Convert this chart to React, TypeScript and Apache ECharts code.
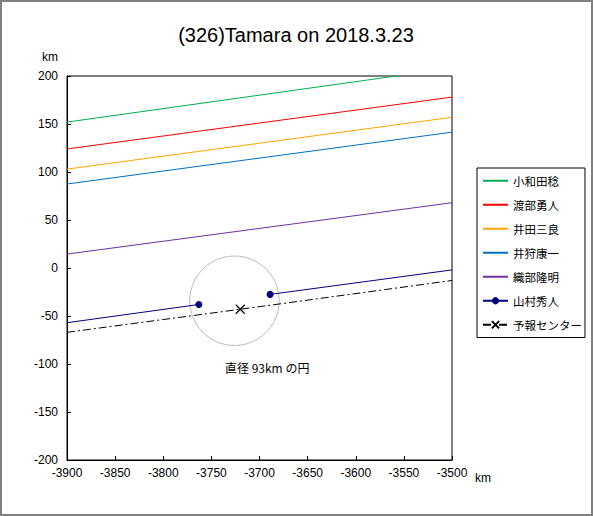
import React, { useEffect, useRef } from 'react';
import * as echarts from 'echarts';

const TITLE = '(326)Tamara on 2018.3.23';
const observers = ['小和田稔', '渡部勇人', '井田三良', '井狩康一', '織部隆明', '山村秀人', '予報センター'];
const lineColors = ['#00B050', '#FF0000', '#FFA500', '#0070C0', '#7030A0', '#000080', '#000000'];

const owadaLine = [[-3900, 152], [-3558, 200]];
const watanabeLine = [[-3900, 124], [-3500, 178]];
const idaLine = [[-3900, 103], [-3500, 157]];
const ikariLine = [[-3900, 87.5], [-3500, 141.5]];
const oribeLine = [[-3900, 14.5], [-3500, 68]];
const yamamuraLine: any[] = [[-3900, -57], [-3763, -38], [-3726, '-'], [-3689, -27.5], [-3500, -2]];
const predictLine = [[-3900, -67], [-3720, -43], [-3500, -13]];

const circleCenter = [-3726, -33];
const circleDiameter = 93;
const circleLabel = '直径 93km の円';
const circleLabelPos = [-3692, -104];

const xRange = [-3900, -3500];
const yRange = [-200, 200];
const tickStep = 50;

const FONT = 'Liberation Sans, Arial, sans-serif';
const JFONT = 'Noto Sans CJK JP, sans-serif';

export default function App() {
  const ref = useRef<HTMLDivElement>(null);
  useEffect(() => {
    if (!ref.current) return;
    const chart = echarts.init(ref.current, null, { renderer: 'svg' });
    const simple = [owadaLine, watanabeLine, idaLine, ikariLine, oribeLine];
    const series: any[] = simple.map((d, i) => ({
      name: observers[i],
      type: 'line',
      data: d,
      symbol: 'none',
      lineStyle: { color: lineColors[i], width: 1 },
      itemStyle: { color: lineColors[i] },
      z: 3,
    }));
    series.push({
      name: observers[5],
      type: 'line',
      data: yamamuraLine.map((p, i) =>
        i === 0 || i === yamamuraLine.length - 1 ? { value: p, symbol: 'none' } : p
      ),
      symbol: 'circle',
      symbolSize: 7,
      connectNulls: false,
      lineStyle: { color: lineColors[5], width: 1 },
      itemStyle: { color: lineColors[5] },
      z: 4,
    });
    series.push({
      name: observers[6],
      type: 'line',
      data: predictLine.map((p, i) =>
        i === 0 || i === predictLine.length - 1 ? { value: p, symbol: 'none' } : p
      ),
      symbol: 'path://M0,0L10,10M10,0L0,10',
      symbolSize: 9,
      lineStyle: { color: '#000', width: 1, type: [8, 3, 2, 3] },
      itemStyle: { color: 'transparent', borderColor: '#000', borderWidth: 1.2 },
      z: 4,
    });
    series.push({
      type: 'custom',
      name: 'circle',
      data: [circleCenter],
      z: 2,
      renderItem: (params: any, api: any) => {
        const c = api.coord([api.value(0), api.value(1)]);
        const r = api.size([circleDiameter / 2, 0])[0];
        const lp = api.coord(circleLabelPos);
        return {
          type: 'group',
          children: [
            {
              type: 'circle',
              shape: { cx: c[0], cy: c[1], r },
              style: { fill: 'none', stroke: '#BBBBBB', lineWidth: 1 },
            },
            {
              type: 'text',
              x: lp[0],
              y: lp[1],
              style: {
                text: circleLabel,
                fill: '#000',
                font: `12px ${JFONT}`,
                textAlign: 'center',
                textVerticalAlign: 'middle',
              },
            },
          ],
        };
      },
    });

    const legendData = observers.map((name, i) => {
      if (i < 5) return { name, itemStyle: { opacity: 0 } };
      if (i === 6) return { name, lineStyle: { type: [8, 3, 2, 3] } };
      return { name };
    });

    chart.setOption({
      animation: false,
      backgroundColor: '#ffffff',
      grid: {
        left: 67,
        top: 76,
        width: 385,
        height: 384,
        show: true,
        borderColor: '#000',
        borderWidth: 1,
        backgroundColor: '#fff',
      },
      xAxis: {
        type: 'value',
        min: xRange[0],
        max: xRange[1],
        interval: tickStep,
        axisLine: { show: true, onZero: false, lineStyle: { color: '#000', width: 1 } },
        axisTick: { show: true, inside: true, length: 4, lineStyle: { color: '#000' } },
        splitLine: { show: false },
        axisLabel: {
          color: '#000',
          fontSize: 12,
          fontFamily: FONT,
          margin: 7,
          formatter: (v: number) => String(v),
        },
      },
      yAxis: {
        type: 'value',
        min: yRange[0],
        max: yRange[1],
        interval: tickStep,
        axisLine: { show: true, onZero: false, lineStyle: { color: '#000', width: 1 } },
        axisTick: { show: true, inside: true, length: 4, lineStyle: { color: '#000' } },
        splitLine: { show: false },
        axisLabel: {
          color: '#000',
          fontSize: 12,
          fontFamily: FONT,
          margin: 9,
          formatter: (v: number) => String(v),
        },
      },
      legend: {
        data: legendData,
        orient: 'vertical',
        left: 477,
        top: 168,
        padding: [7, 3, 7, 5],
        itemGap: 12.5,
        itemWidth: 25,
        itemHeight: 9,
        borderColor: '#000',
        borderWidth: 1,
        backgroundColor: '#fff',
        textStyle: { color: '#000', fontSize: 11.5, fontFamily: JFONT },
        selectedMode: false,
      },
      graphic: [
        {
          type: 'rect',
          shape: { x: 1, y: 1, width: 591, height: 514 },
          style: { fill: 'none', stroke: '#808080', lineWidth: 2 },
          silent: true,
        },
        {
          type: 'text',
          x: 296,
          y: 35,
          style: {
            text: TITLE,
            fill: '#000',
            font: `20px ${FONT}`,
            textAlign: 'center',
            textVerticalAlign: 'middle',
          },
        },
        {
          type: 'text',
          x: 50,
          y: 57,
          style: { text: 'km', fill: '#000', font: `12px ${FONT}`, textAlign: 'center', textVerticalAlign: 'middle' },
        },
        {
          type: 'text',
          x: 483,
          y: 478,
          style: { text: 'km', fill: '#000', font: `12px ${FONT}`, textAlign: 'center', textVerticalAlign: 'middle' },
        },
      ],
      series,
    });
    return () => chart.dispose();
  }, []);
  return (
    <div
      ref={ref}
      style={{ position: 'absolute', left: 0, top: 0, width: 593, height: 516, background: '#fff' }}
    />
  );
}
